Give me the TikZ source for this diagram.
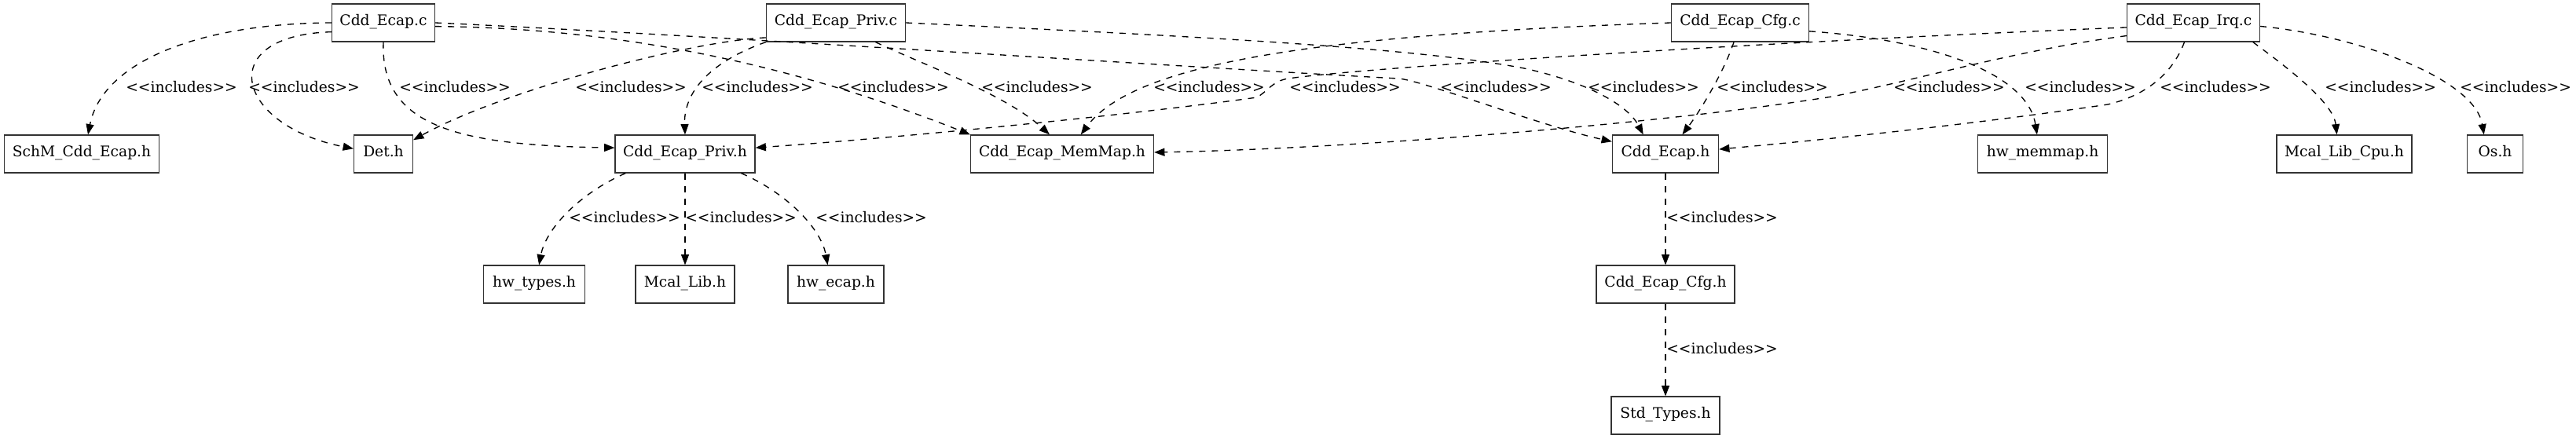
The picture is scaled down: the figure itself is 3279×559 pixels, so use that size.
\documentclass[tikz,border=0pt]{standalone}
\usepackage{fontspec}
\setmainfont{DejaVu Serif}
\usetikzlibrary{arrows.meta}
\newcommand\incl{<\kern0pt<includes>\kern0pt>}
\begin{document}
\begin{tikzpicture}[x=0.75pt,y=-0.75pt,
  box/.style={draw=black!80, line width=0.9pt, minimum height=36pt, inner sep=0pt,
    font=\fontsize{14pt}{17pt}\selectfont, text height=0.76em, text depth=0.24em},
  wd/.style={minimum width=#1*0.75pt},
  edge/.style={draw=black, line width=1pt, dash pattern=on 6pt off 6pt,
    -{Triangle[length=10pt,width=7.5pt]}},
  lbl/.style={inner sep=0pt, anchor=base west, font=\fontsize{14pt}{17pt}\selectfont}]
\useasboundingbox (0,0) rectangle (3279,559);
% row 0
\node[box,wd=131] (ecapc) at (488,29) {Cdd\_Ecap.c};
\node[box,wd=177] (privc) at (1064,29) {Cdd\_Ecap\_Priv.c};
\node[box,wd=175] (cfgc) at (2215,29) {Cdd\_Ecap\_Cfg.c};
\node[box,wd=169] (irqc) at (2792,29) {Cdd\_Ecap\_Irq.c};
% row 1
\node[box,wd=197] (schm) at (104,196) {SchM\_Cdd\_Ecap.h};
\node[box,wd=75] (det) at (488,196) {Det.h};
\node[box,wd=178] (privh) at (872,196) {Cdd\_Ecap\_Priv.h};
\node[box,wd=233] (memmap) at (1352,196) {Cdd\_Ecap\_MemMap.h};
\node[box,wd=135] (ecaph) at (2120,196) {Cdd\_Ecap.h};
\node[box,wd=165] (hwmm) at (2600,196) {hw\_memmap.h};
\node[box,wd=172] (cpu) at (2984,196) {Mcal\_Lib\_Cpu.h};
\node[box,wd=71] (os) at (3176,196) {Os.h};
% row 2
\node[box,wd=129] (hwtypes) at (680,362) {hw\_types.h};
\node[box,wd=126] (mcallib) at (872,362) {Mcal\_Lib.h};
\node[box,wd=122] (hwecap) at (1064,362) {hw\_ecap.h};
\node[box,wd=176] (cfgh) at (2120,362) {Cdd\_Ecap\_Cfg.h};
% row 3
\node[box,wd=138] (std) at (2120,529) {Std\_Types.h};

% edges from Cdd_Ecap.c
\draw[edge] (ecapc.west) .. controls (250,30) and (130,80) .. (schm.72);
\draw[edge] (ecapc.190) .. controls (270,45) and (300,160) .. (det.170);
\draw[edge] (ecapc.south) .. controls (484,160) and (580,185) .. (privh.175);
\draw[edge] (ecapc.-4) .. controls (850,36) and (1080,110) .. (memmap.north west);
\draw[edge] (ecapc.east) .. controls (900,45) and (1500,85) .. (1780,100)
  .. controls (1810,102) and (1960,160) .. (ecaph.167);
% edges from Cdd_Ecap_Priv.c
\draw[edge] (privc.192) .. controls (880,52) and (640,115) .. (det.25);
\draw[edge] (privc.south west) .. controls (900,80) and (870,120) .. (privh.north);
\draw[edge] (privc.334) .. controls (1170,80) and (1280,120) .. (memmap.123);
\draw[edge] (privc.east) .. controls (1500,45) and (1800,60) .. (1940,87)
  .. controls (2010,102) and (2070,130) .. (ecaph.139);
% edges from Cdd_Ecap_Cfg.c
\draw[edge] (cfgc.west) .. controls (1650,45) and (1440,85) .. (memmap.46);
\draw[edge] (cfgc.252) .. controls (2195,90) and (2165,140) .. (ecaph.49);
\draw[edge] (cfgc.-7) .. controls (2450,50) and (2580,90) .. (hwmm.106);
% edges from Cdd_Ecap_Irq.c
\draw[edge] (irqc.184) .. controls (2200,55) and (1720,88) .. (1640,100)
  .. controls (1620,103) and (1615,115) .. (1600,124)
  .. controls (1450,145) and (1150,175) .. (privh.5);
\draw[edge] (irqc.191) .. controls (2560,65) and (2450,100) .. (2332,123)
  .. controls (2100,160) and (1700,190) .. (memmap.1);
\draw[edge] (irqc.245) .. controls (2765,95) and (2730,122) .. (2683,133)
  .. controls (2500,160) and (2300,180) .. (ecaph.5);
\draw[edge] (irqc.-18) .. controls (2910,85) and (2970,130) .. (cpu.111);
\draw[edge] (irqc.-3) .. controls (3000,45) and (3150,100) .. (os.120);
% edges from Cdd_Ecap_Priv.h
\draw[edge] (privh.198) .. controls (740,245) and (695,290) .. (hwtypes.76);
\draw[edge] (privh.south) -- (mcallib.north);
\draw[edge] (privh.341) .. controls (1000,245) and (1045,290) .. (hwecap.113);
% chain
\draw[edge] (ecaph.south) -- (cfgh.north);
\draw[edge] (cfgh.south) -- (std.north);

% labels row 1
\node[lbl] (l1) at (160,118) {\incl};
\node[lbl] (l2) at (316,118) {\incl};
\node[lbl] (l3) at (508,118) {\incl};
\node[lbl] (l4) at (732,118) {\incl};
\node[lbl] (l5) at (893,118) {\incl};
\node[lbl] (l6) at (1066,118) {\incl};
\node[lbl] (l7) at (1249,118) {\incl};
\node[lbl] (l8) at (1468,118) {\incl};
\node[lbl] (l9) at (1641,118) {\incl};
\node[lbl] (l10) at (1833,118) {\incl};
\node[lbl] (l11) at (2021,118) {\incl};
\node[lbl] (l12) at (2185,118) {\incl};
\node[lbl] (l13) at (2410,118) {\incl};
\node[lbl] (l14) at (2577,118) {\incl};
\node[lbl] (l15) at (2749,118) {\incl};
\node[lbl] (l16) at (2959,118) {\incl};
\node[lbl] (l17) at (3131,118) {\incl};
% labels row 2
\node[lbl] (l18) at (724,284) {\incl};
\node[lbl] (l19) at (872,284) {\incl};
\node[lbl] (l20) at (1038,284) {\incl};
\node[lbl] (l21) at (2121,284) {\incl};
% label row 3
\node[lbl] (l22) at (2121,450) {\incl};
\end{tikzpicture}
\end{document}
